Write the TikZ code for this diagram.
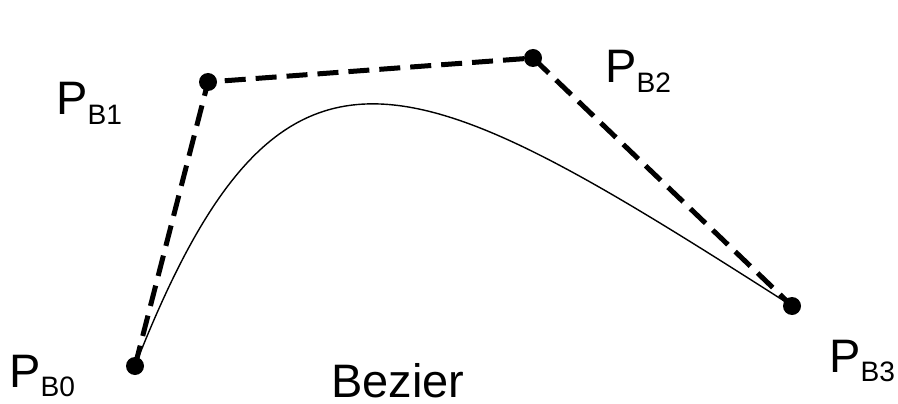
\documentclass[tikz,border=0pt]{standalone}
\usepackage{fontspec}
\setmainfont{Liberation Sans}
\usetikzlibrary{math}
\newcommand{\ptsub}[1]{\raisebox{-7pt}{\fontsize{20}{22}\selectfont #1}}
\tikzset{
  ptlabel/.style={inner sep=0pt, anchor=base west, font=\fontsize{33.4}{40}\selectfont},
  polyline/.style={line width=1.25mm, dash pattern=on 5.25mm off 2.5mm},
}

\begin{document}
\begin{tikzpicture}[x=0.25mm,y=-0.25mm]
\tikzmath{
\r=2.25;
}
\useasboundingbox (0,0) rectangle (898,404);

\coordinate (B0) at (135,366);
\coordinate (B1) at (208,82);
\coordinate (B2) at (533,58);
\coordinate (B3) at (792,306);

\draw[line width=1pt] (B0) .. controls (282,-9) and (410,62) .. (B3);
\draw[polyline] (B0) -- (B1) -- (B2) -- (B3);

\foreach \p in {B0,B1,B2,B3}
  \fill (\p) circle (\r mm);

\node[ptlabel] (L0) at (9,387) {P\ptsub{B0}};
\node[ptlabel] (L1) at (56,115) {P\ptsub{B1}};
\node[ptlabel] (L2) at (605,83) {P\ptsub{B2}};
\node[ptlabel] (L3) at (829,372) {P\ptsub{B3}};

\node[ptlabel] (title) at (331,397) {Bezier};

\end{tikzpicture}
\end{document}
